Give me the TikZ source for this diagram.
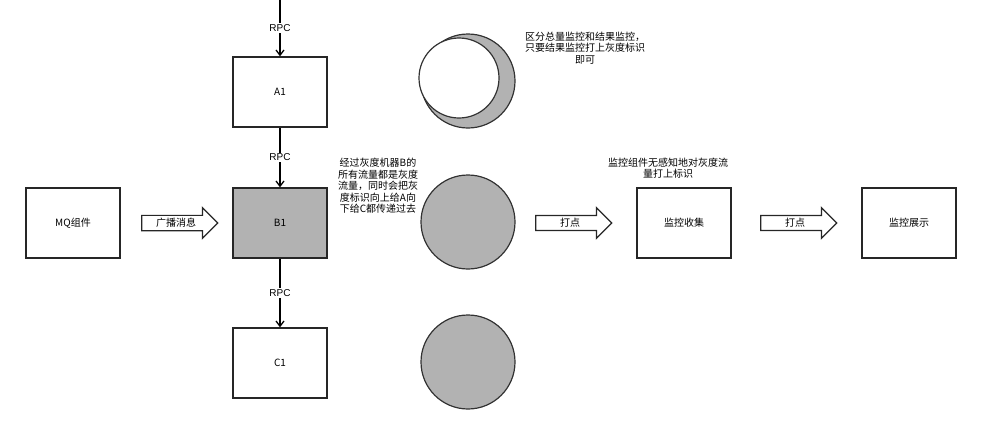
\documentclass[tikz,border=0pt]{standalone}
\usepackage{fontspec}
\setmainfont{Liberation Sans}
\newfontfamily\cjk{Noto Sans CJK SC}
\usetikzlibrary{shapes.arrows,arrows.meta}
\begin{document}
\begin{tikzpicture}[x=0.75pt,y=-0.75pt,
  box/.style={draw=black!85,line width=0.9pt,minimum width=70.5pt,minimum height=52.5pt,inner sep=0pt,font=\cjk\fontsize{7.5}{9}\selectfont},
  barrow/.style={draw=black!85,line width=0.9pt,single arrow,single arrow head extend=5pt,minimum height=57pt,minimum width=23pt,inner sep=1pt,font=\cjk\fontsize{7.5}{9}\selectfont,shape border uses incircle=false},
  conn/.style={line width=1pt,-{Straight Barb[length=4pt,width=6pt]}},
  lab/.style={fill=white,inner sep=1pt,font=\fontsize{7.5}{9}\selectfont},
  note/.style={align=center,font=\cjk\fontsize{7.5}{8.6}\selectfont,inner sep=0pt},
  circ/.style={draw=black!80,line width=0.9pt,circle,minimum size=70.5pt,inner sep=0pt}]
\useasboundingbox (0,0) rectangle (1000,422);
\node[box] (a1) at (280,92) {A1};
\node[box,fill=black!30] (b1) at (280,223) {B1};
\node[box] (c1) at (280,363) {C1};
\node[box] (mq) at (73,223) {MQ组件};
\node[box] (col) at (684,223) {监控收集};
\node[box] (show) at (909,223) {监控展示};
\coordinate (top) at (280,0);
\draw[conn] (top) -- node[lab]{RPC} (a1);
\draw[conn] (a1) -- node[lab]{RPC} (b1);
\draw[conn] (b1) -- node[lab]{RPC} (c1);
\node[barrow] (g1) at (176,223) {广播消息\hspace{8pt}};
\node[barrow] (g2) at (570,223) {打点\hspace{10pt}};
\node[barrow] (g3) at (795,223) {打点\hspace{10pt}};
\node[circ,fill=black!30] (ct) at (468,81) {};
\fill[white] (459,78) circle (40);
\draw[black!80,line width=0.9pt] (459,78) circle (40);
\node[circ,fill=black!30] (cm) at (468,222) {};
\node[circ,fill=black!30] (cb) at (468,362) {};
\node[note] (n1) at (585,48) {区分总量监控和结果监控，\\只要结果监控打上灰度标识\\即可};
\node[note] (n2) at (378,186) {经过灰度机器B的\\所有流量都是灰度\\流量，同时会把灰\\度标识向上给A向\\下给C都传递过去};
\node[note] (n3) at (668,168) {监控组件无感知地对灰度流\\量打上标识};
\end{tikzpicture}
\end{document}
